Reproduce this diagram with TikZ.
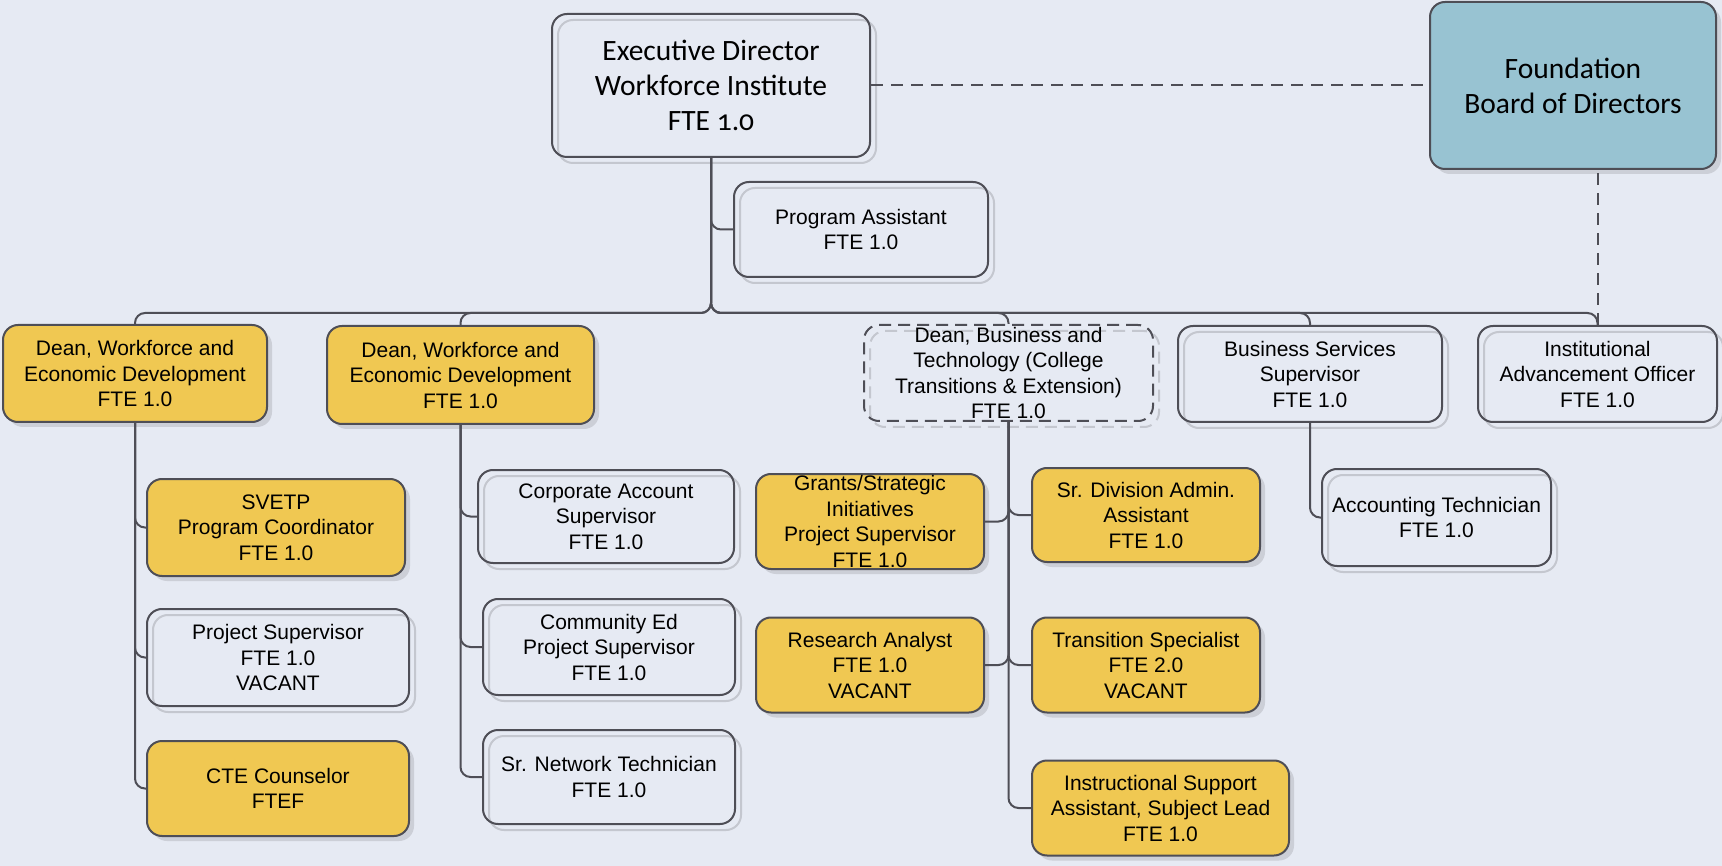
\documentclass[tikz,border=0pt]{standalone}
\usepackage{fontspec}
\setmainfont{Liberation Sans}
\newfontfamily\calfont[Numbers=OldStyle]{Carlito}
\usetikzlibrary{shadows}
\definecolor{bgc}{RGB}{230,234,243}
\definecolor{goldc}{RGB}{240,200,82}
\definecolor{foundc}{RGB}{152,195,210}
\definecolor{edgec}{RGB}{78,78,86}
\definecolor{shadowc}{RGB}{204,207,215}
\definecolor{ghostc}{RGB}{196,199,207}
\tikzset{
  base/.style={rectangle, rounded corners=15pt, draw=edgec, line width=2pt,
    inner sep=0pt, align=center, text=black, font=\fontsize{21}{25.5}\selectfont},
  fillshad/.style={drop shadow={shadow xshift=5pt, shadow yshift=-5pt, fill=shadowc, opacity=1}},
  lineshad/.style={drop shadow={shadow xshift=6pt, shadow yshift=-6pt, fill=none, draw=ghostc, opacity=1}},
  plainbox/.style={base, lineshad},
  goldbox/.style={base, fillshad, fill=goldc},
  dashbox/.style={base, lineshad, dash pattern=on 12pt off 7pt},
  bigtext/.style={font=\calfont\fontsize{29.5}{35}\selectfont},
  conn/.style={draw=edgec, line width=2pt, rounded corners=10pt},
  dconn/.style={draw=edgec, line width=2pt, dash pattern=on 12pt off 8pt}
}
\begin{document}
\begin{tikzpicture}[x=1pt, y=-1pt]
\fill[bgc] (0,0) rectangle (1722,866);
\useasboundingbox (0,0) rectangle (1722,866);

% top level
\node[plainbox, bigtext, minimum width=318pt, minimum height=143pt] (exec) at (711,85.5)
  {Executive Director\\Workforce Institute\\FTE 1.0};
\node[base, fillshad, fill=foundc, bigtext, minimum width=286pt, minimum height=167pt] (found) at (1573,85.5)
  {Foundation\\Board of Directors};
\node[plainbox, minimum width=254pt, minimum height=95pt] (pa) at (861,229.5)
  {Program Assistant\\FTE 1.0};

% second level
\node[goldbox, minimum width=264pt, minimum height=97pt] (dean1) at (135,373.5)
  {Dean, Workforce and\\Economic Development\\FTE 1.0};
\node[goldbox, minimum width=267pt, minimum height=98pt] (dean2) at (460.5,375)
  {Dean, Workforce and\\Economic Development\\FTE 1.0};
\node[dashbox, minimum width=289pt, minimum height=96pt] (deanbt) at (1008.5,373)
  {Dean, Business and\\Technology (College\\Transitions \& Extension)\\FTE 1.0};
\node[plainbox, minimum width=264pt, minimum height=96pt] (bss) at (1310,374)
  {Business Services\\Supervisor\\FTE 1.0};
\node[plainbox, minimum width=239pt, minimum height=96pt] (iao) at (1597.5,374)
  {Institutional\\Advancement Officer\\FTE 1.0};

% dean1 children
\node[goldbox, minimum width=258pt, minimum height=97pt] (svetp) at (276,527.5)
  {SVETP\\Program Coordinator\\FTE 1.0};
\node[plainbox, minimum width=262pt, minimum height=97pt] (projsup) at (278,657.5)
  {Project Supervisor\\FTE 1.0\\VACANT};
\node[goldbox, minimum width=262pt, minimum height=95pt] (cte) at (278,788.5)
  {CTE Counselor\\FTEF};

% dean2 children
\node[plainbox, minimum width=256pt, minimum height=93pt] (corp) at (606,516.5)
  {Corporate Account\\Supervisor\\FTE 1.0};
\node[plainbox, minimum width=252pt, minimum height=96pt] (comm) at (609,647)
  {Community Ed\\Project Supervisor\\FTE 1.0};
\node[plainbox, minimum width=252pt, minimum height=94pt] (net) at (609,777)
  {Sr. Network Technician\\FTE 1.0};

% dean B&T children
\node[goldbox, minimum width=228pt, minimum height=95pt] (grants) at (870,521.5)
  {Grants/Strategic\\Initiatives\\Project Supervisor\\FTE 1.0};
\node[goldbox, minimum width=228pt, minimum height=95pt] (research) at (870,665)
  {Research Analyst\\FTE 1.0\\VACANT};
\node[goldbox, minimum width=228pt, minimum height=94pt] (srdiv) at (1146,515)
  {Sr. Division Admin.\\Assistant\\FTE 1.0};
\node[goldbox, minimum width=228pt, minimum height=95pt] (trans) at (1146,665)
  {Transition Specialist\\FTE 2.0\\VACANT};
\node[goldbox, minimum width=257pt, minimum height=95pt] (instr) at (1160.5,808)
  {Instructional Support\\Assistant, Subject Lead\\FTE 1.0};

% bss child
\node[plainbox, minimum width=229pt, minimum height=97pt] (acct) at (1436.5,517.5)
  {Accounting Technician\\FTE 1.0};

% connectors
\coordinate (bus) at (711,313);
\draw[conn] (exec.south) |- (pa.west);
\foreach \n in {dean1,dean2,deanbt,bss,iao}
  \draw[conn] (exec.south) |- (\n.north |- bus) -- (\n.north);

\foreach \n in {svetp,projsup,cte}
  \draw[conn] (dean1.south) |- (\n.west);
\foreach \n in {corp,comm,net}
  \draw[conn] (dean2.south) |- (\n.west);
\foreach \n in {grants,research}
  \draw[conn] (deanbt.south) |- (\n.east);
\foreach \n in {srdiv,trans,instr}
  \draw[conn] (deanbt.south) |- (\n.west);
\draw[conn] (bss.south) |- (acct.west);

\draw[dconn] (exec.east) -- (found.west);
\draw[dconn] (iao.north) -- (iao.north |- found.south);
\end{tikzpicture}
\end{document}
